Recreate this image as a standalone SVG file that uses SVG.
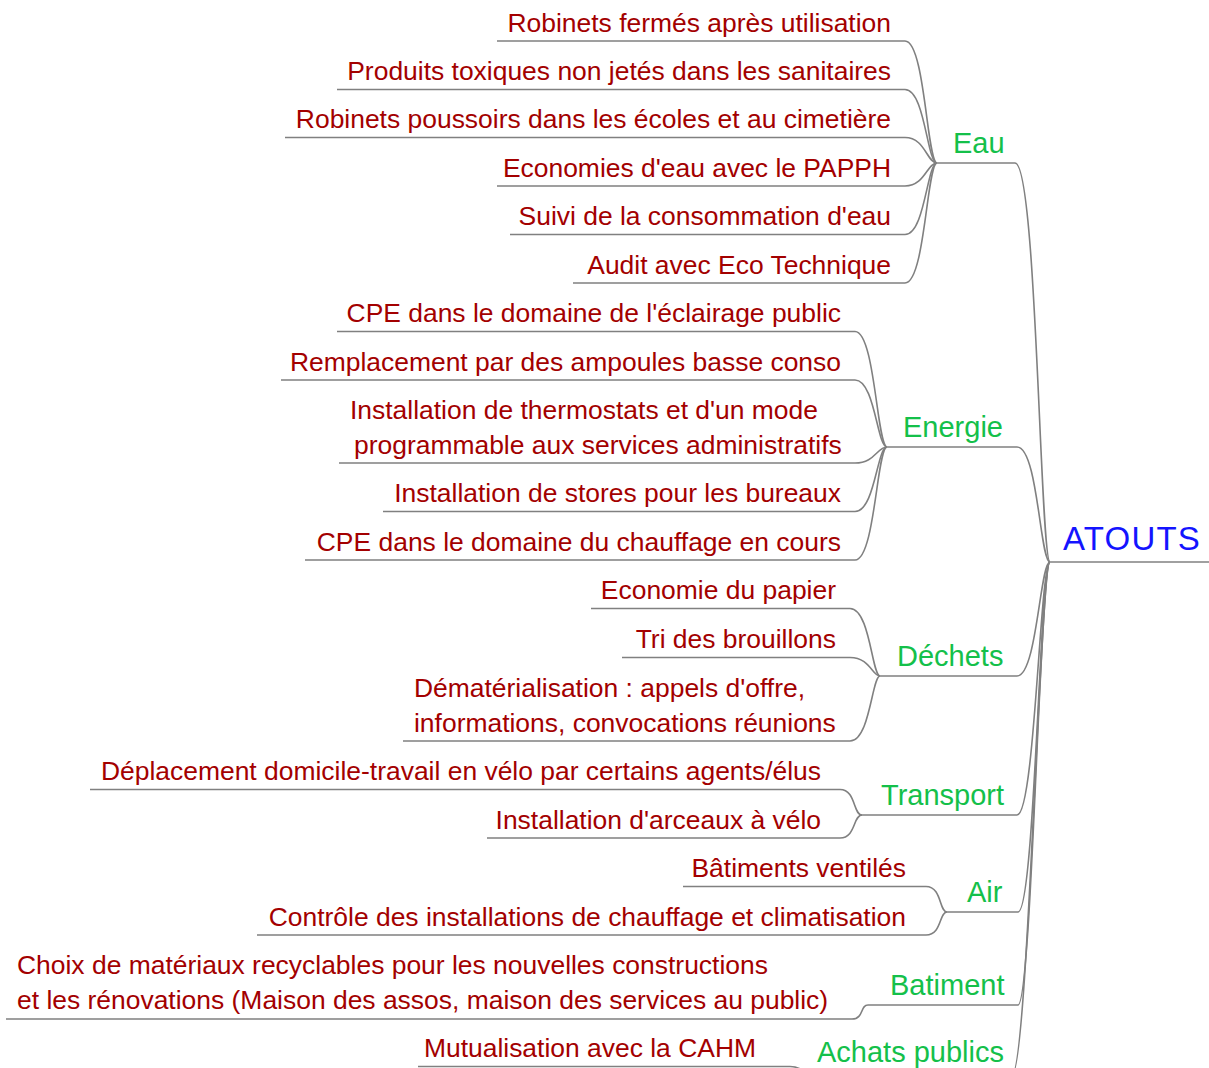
<svg xmlns="http://www.w3.org/2000/svg" width="1209" height="1068" viewBox="0 0 1209 1068">
<style>
.it{font-family:"Liberation Sans",Arial,sans-serif;font-size:26.45px;fill:#a30000}
.cat{font-family:"Liberation Sans",Arial,sans-serif;font-size:29px;fill:#14c04a}
.root{font-family:"Liberation Sans",Arial,sans-serif;font-size:33px;fill:#1414ff;letter-spacing:1.2px}
.e{text-anchor:end}
.ln{fill:none;stroke:#808080;stroke-width:1.6}
</style>
<rect width="1209" height="1068" fill="#fff"/>
<g id="connectors" class="ln">
<path d="M1050 562H1209"/>
<path d="M937 163H1015C1037 163 1040 562 1050 562"/>
<path d="M887 447H1017C1038 447 1040 562 1050 562"/>
<path d="M880 676H1017C1037 676 1040 562 1050 562"/>
<path d="M862 815H1017C1035 815 1040 562 1050 562"/>
<path d="M947 912H1018C1035 912 1040 562 1050 562"/>
<path d="M868 1005H1018C1032 1005 1040 562 1050 562"/>
<path d="M812 1075H1012C1028 1075 1040 562 1050 562"/>
<path d="M497 41H905C925 41 927 163 937 163"/>
<path d="M337 89.5H905C925 89.5 927 163 937 163"/>
<path d="M285 137.5H905C925 137.5 927 163 937 163"/>
<path d="M497 186H905C925 186 927 163 937 163"/>
<path d="M510 234.5H905C925 234.5 927 163 937 163"/>
<path d="M573 283H905C925 283 927 163 937 163"/>
<path d="M337 331.5H855C875 331.5 877 447 887 447"/>
<path d="M281 380H855C875 380 877 447 887 447"/>
<path d="M339 463H855C875 463 877 447 887 447"/>
<path d="M383 511.5H855C875 511.5 877 447 887 447"/>
<path d="M305 560H855C875 560 877 447 887 447"/>
<path d="M591 608.5H850C870 608.5 872 676 880 676"/>
<path d="M622 657.5H850C870 657.5 872 676 880 676"/>
<path d="M403 741H850C870 741 872 676 880 676"/>
<path d="M90 789.5H840C856 789.5 853 815 862 815"/>
<path d="M487 838H840C856 838 853 815 862 815"/>
<path d="M683 886.5H926C942 886.5 939 912 947 912"/>
<path d="M257 935H926C942 935 939 912 947 912"/>
<path d="M6 1019H852C864 1019 860 1005 868 1005"/>
<path d="M418 1066.5H790C804 1066.5 804 1075 812 1075"/>
</g>
<g id="atouts"><text class="root" x="1063" y="550">ATOUTS</text></g>
<g id="eau">
<text class="cat" x="953" y="153">Eau</text>
<text class="it e" x="891" y="31.5">Robinets fermés après utilisation</text>
<text class="it e" x="891" y="80">Produits toxiques non jetés dans les sanitaires</text>
<text class="it e" x="891" y="128">Robinets poussoirs dans les écoles et au cimetière</text>
<text class="it e" x="891" y="176.5">Economies d'eau avec le PAPPH</text>
<text class="it e" x="891" y="225">Suivi de la consommation d'eau</text>
<text class="it e" x="891" y="273.5">Audit avec Eco Technique</text>
</g>
<g id="energie">
<text class="cat" x="903" y="437">Energie</text>
<text class="it e" x="841" y="322">CPE dans le domaine de l'éclairage public</text>
<text class="it e" x="841" y="370.5">Remplacement par des ampoules basse conso</text>
<text class="it" x="350" y="418.5">Installation de thermostats et d'un mode</text>
<text class="it" x="354" y="453.5">programmable aux services administratifs</text>
<text class="it e" x="841" y="502">Installation de stores pour les bureaux</text>
<text class="it e" x="841" y="550.5">CPE dans le domaine du chauffage en cours</text>
</g>
<g id="dechets">
<text class="cat" x="897" y="666">Déchets</text>
<text class="it e" x="836" y="599">Economie du papier</text>
<text class="it e" x="836" y="647.5">Tri des brouillons</text>
<text class="it" x="414" y="696.5">Dématérialisation : appels d'offre,</text>
<text class="it" x="414" y="731.5">informations, convocations réunions</text>
</g>
<g id="transport">
<text class="cat" x="881" y="805">Transport</text>
<text class="it e" x="821" y="780">Déplacement domicile-travail en vélo par certains agents/élus</text>
<text class="it e" x="821" y="828.5">Installation d'arceaux à vélo</text>
</g>
<g id="air">
<text class="cat" x="967" y="902">Air</text>
<text class="it e" x="906" y="877">Bâtiments ventilés</text>
<text class="it e" x="906" y="925.5">Contrôle des installations de chauffage et climatisation</text>
</g>
<g id="batiment">
<text class="cat" x="890" y="995">Batiment</text>
<text class="it" x="17" y="974">Choix de matériaux recyclables pour les nouvelles constructions</text>
<text class="it" x="17" y="1009">et les rénovations (Maison des assos, maison des services au public)</text>
</g>
<g id="achats">
<text class="cat" x="817" y="1062">Achats publics</text>
<text class="it e" x="756" y="1057">Mutualisation avec la CAHM</text>
</g>
</svg>
